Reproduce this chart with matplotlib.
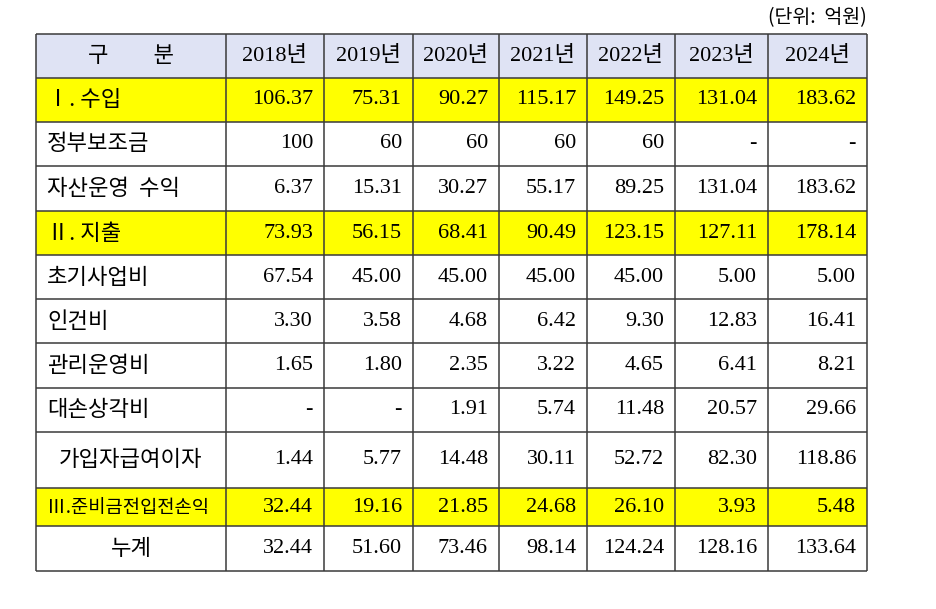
import matplotlib.pyplot as plt
from matplotlib.patches import Rectangle

# ==============================================
# 데이터 (단위: 억원)
# ==============================================
years = ['2018년', '2019년', '2020년', '2021년', '2022년', '2023년', '2024년']
header_label = '구         분'
unit_label = '(단위:  억원)'

row_labels = ['Ⅰ. 수입', '정부보조금', '자산운영  수익', 'Ⅱ. 지출', '초기사업비', '인건비',
              '관리운영비', '대손상각비', '가입자급여이자', 'Ⅲ.준비금전입전손익', '누계']

income = ['106.37', '75.31', '90.27', '115.17', '149.25', '131.04', '183.62']
subsidy = ['100', '60', '60', '60', '60', '-', '-']
asset_income = ['6.37', '15.31', '30.27', '55.17', '89.25', '131.04', '183.62']
expense = ['73.93', '56.15', '68.41', '90.49', '123.15', '127.11', '178.14']
initial_cost = ['67.54', '45.00', '45.00', '45.00', '45.00', '5.00', '5.00']
labor_cost = ['3.30', '3.58', '4.68', '6.42', '9.30', '12.83', '16.41']
admin_cost = ['1.65', '1.80', '2.35', '3.22', '4.65', '6.41', '8.21']
bad_debt = ['-', '-', '1.91', '5.74', '11.48', '20.57', '29.66']
member_interest = ['1.44', '5.77', '14.48', '30.11', '52.72', '82.30', '118.86']
net_income = ['32.44', '19.16', '21.85', '24.68', '26.10', '3.93', '5.48']
cumulative = ['32.44', '51.60', '73.46', '98.14', '124.24', '128.16', '133.64']

row_values = [income, subsidy, asset_income, expense, initial_cost, labor_cost,
              admin_cost, bad_debt, member_interest, net_income, cumulative]
highlight_rows = [0, 3, 9]
label_align = ['left'] * 8 + ['center', 'left', 'center']
label_size = [16] * 9 + [13.5, 16]

# ==============================================
# 레이아웃 (픽셀 좌표)
# ==============================================
col_edges = [36, 226, 324, 413, 499, 587, 675, 768, 867]
row_edges = [34, 78, 122, 166, 211, 255, 299, 343, 388, 432, 488, 526, 571]

HEADER_BG = '#dfe3f4'
YELLOW = '#ffff00'
LINE = '#3a3a3a'
KO = ['Noto Sans CJK KR', 'DejaVu Sans']
NUM = ['Liberation Serif', 'Noto Sans CJK KR']

fig = plt.figure(figsize=(9.37, 6.09), dpi=100)
ax = fig.add_axes([0, 0, 1, 1])
ax.set_xlim(0, 937)
ax.set_ylim(609, 0)
ax.axis('off')

# 배경색
ax.add_patch(Rectangle((col_edges[0], row_edges[0]), col_edges[-1] - col_edges[0],
                       row_edges[1] - row_edges[0], facecolor=HEADER_BG, edgecolor='none'))
for r in highlight_rows:
    y0, y1 = row_edges[r + 1], row_edges[r + 2]
    ax.add_patch(Rectangle((col_edges[0], y0), col_edges[-1] - col_edges[0], y1 - y0,
                           facecolor=YELLOW, edgecolor='none'))

# 격자선
for x in col_edges:
    ax.plot([x, x], [row_edges[0], row_edges[-1]], color=LINE, lw=1.1, solid_capstyle='butt')
for y in row_edges:
    ax.plot([col_edges[0], col_edges[-1]], [y, y], color=LINE, lw=1.1, solid_capstyle='butt')

# 헤더
yc = (row_edges[0] + row_edges[1]) / 2
ax.text((col_edges[0] + col_edges[1]) / 2, yc, header_label, ha='center', va='center',
        fontsize=16, family=KO)
for j, yr in enumerate(years):
    ax.text((col_edges[j + 1] + col_edges[j + 2]) / 2, yc, yr, ha='center', va='center',
            fontsize=16, family=NUM)

ax.text(col_edges[-1], 18, unit_label, ha='right', va='center', fontsize=14, family=KO)

# 본문
for i, (label, vals) in enumerate(zip(row_labels, row_values)):
    y = (row_edges[i + 1] + row_edges[i + 2]) / 2
    if label_align[i] == 'center':
        ax.text((col_edges[0] + col_edges[1]) / 2, y, label, ha='center', va='center',
                fontsize=label_size[i], family=KO)
    else:
        ax.text(col_edges[0] + 11, y, label, ha='left', va='center',
                fontsize=label_size[i], family=KO)
    for j, v in enumerate(vals):
        ax.text(col_edges[j + 2] - 11, y, v, ha='right', va='center', fontsize=16, family=NUM)

fig.savefig('out.png', dpi=100)
